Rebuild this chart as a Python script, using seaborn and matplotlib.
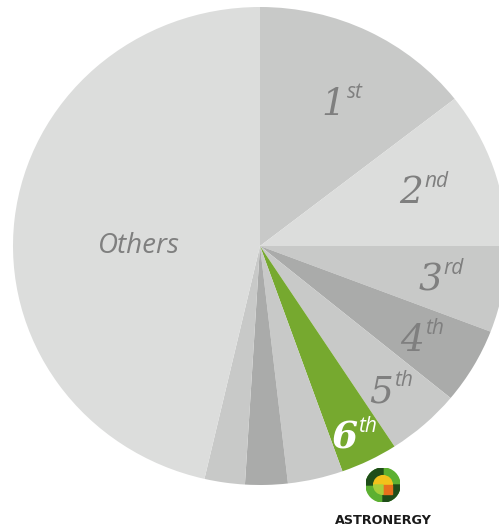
import matplotlib
matplotlib.use("Agg")
import numpy as np
import seaborn as sns
from matplotlib import pyplot as plt
from matplotlib.patches import Circle, Wedge, Rectangle

# market share (degrees of the circle, clockwise from top)
ranks = ["1", "2", "3", "4", "5", "6", "", "", "", "Others"]
suffixes = ["st", "nd", "rd", "th", "th", "th", "", "", "", ""]
shares = [52, 38, 21, 18.5, 17.5, 13.5, 13, 10, 9.5, 167]
colors = ["#c8c9c8", "#dcdddc", "#c8c9c8", "#aaabaa", "#c8c9c8",
          "#76a92f", "#c8c9c8", "#aaabaa", "#c8c9c8", "#dcdddc"]
label_r = [0.69, 0.70, 0.75, 0.77, 0.81, 0.89, 0, 0, 0, 0.49]
label_turn = [-4, 0, 0, 0, 0, 0, 0, 0, 0, 6.5]

sns.set_style("white")
plt.rcParams['font.family'] = ['Open Sans', 'DejaVu Sans']

fig = plt.figure(figsize=(4.99, 5.31), dpi=100)
W, H = 499, 531
cx, cy, rx, ry = 260, 246, 247, 239
ax = fig.add_axes([(cx - rx) / W, 1 - (cy + ry) / H, 2 * rx / W, 2 * ry / H])

wedges, _ = ax.pie(shares, colors=colors, startangle=90, counterclock=False,
                   wedgeprops=dict(linewidth=0))
ax.set_aspect("auto")
ax.set_xlim(-1, 1)
ax.set_ylim(-1, 1)
ax.axis("off")

text_grey = "#7f7f7f"
for w, rk, sf, r, t in zip(wedges, ranks, suffixes, label_r, label_turn):
    if not rk:
        continue
    mid = np.deg2rad((w.theta1 + w.theta2) / 2 + t)
    x, y = r * np.cos(mid), r * np.sin(mid)
    col = "white" if rk == "6" else text_grey
    if rk == "Others":
        ax.text(x, y, rk, color=col, fontsize=20, style="italic",
                ha="center", va="center")
        continue
    ax.text(x, y - 0.05, rk, color=col, fontsize=27, style="italic",
            family="DejaVu Serif", weight="bold" if rk == "6" else "normal",
            ha="right", va="baseline")
    ax.text(x + 0.005, y + 0.02, sf, color=col, fontsize=15, style="italic",
            ha="left", va="baseline")

# company logo
lx, ly, lr = 383, 485, 17
lax = fig.add_axes([(lx - lr) / W, 1 - (ly + lr) / H, 2 * lr / W, 2 * lr / H])
lax.set_xlim(-1, 1)
lax.set_ylim(-1, 1)
lax.set_aspect("equal")
lax.axis("off")
lax.add_patch(Circle((0, 0), 1, color="#5cb031"))
lax.add_patch(Wedge((0, 0), 1, 90, 180, width=0.45, color="#1f4d19"))
lax.add_patch(Wedge((0, 0), 1, 270, 360, width=0.45, color="#1f4d19"))
lax.add_patch(Wedge((0, 0), 0.55, 0, 180, color="#f2c21b"))
lax.add_patch(Rectangle((0, -0.5), 0.5, 0.5, color="#e8701c"))
lax.add_patch(Wedge((0, 0), 0.55, 180, 270, color="#a8cf3a"))

fig.text(lx / W, 1 - 521 / H, "ASTRONERGY", ha="center", va="center",
         fontsize=9.2, weight="bold", family="DejaVu Sans", color="#1a1a1a")

fig.savefig("out.png", dpi=100)
